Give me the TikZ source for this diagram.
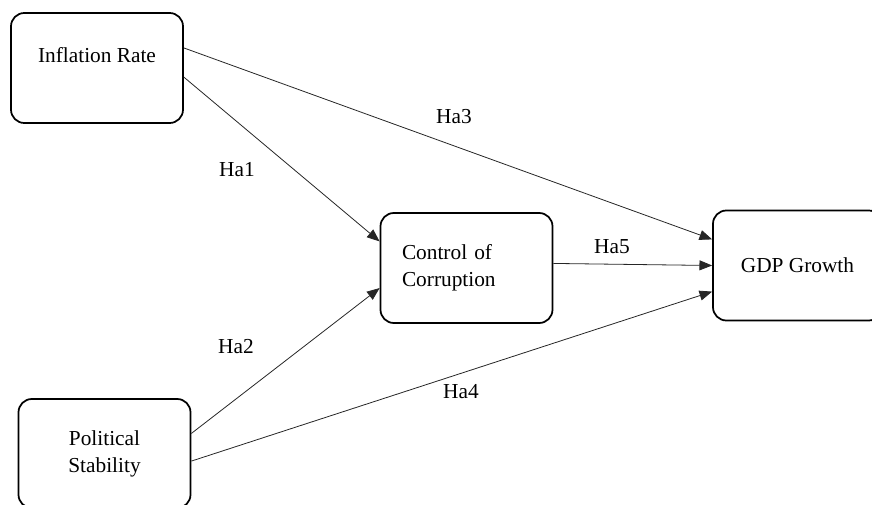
\documentclass[tikz,border=0pt]{standalone}
\usepackage{fontspec}
\setmainfont{Liberation Serif}
\usetikzlibrary{arrows.meta}

\tikzset{
	varbox/.style={draw, rounded corners=10pt, line width=1.3pt, minimum width=129pt, minimum height=82.5pt, align=center, inner sep=0pt},
	hyp/.style={-{Triangle[length=9.5pt,width=7.5pt]}, line width=0.6pt, black!85},
}

\begin{document}
\begin{tikzpicture}[x=0.75pt,y=-0.75pt,font=\fontsize{16}{20.25}\selectfont]
	% page
	\useasboundingbox (0,0) rectangle (872,505);
	\clip (0,0) rectangle (872,505);

	% variables
	\node[varbox] (inflation) at (97,68) {Inflation Rate\\ \mbox{}};
	\node[varbox, align=left, text width=96.75pt] (corruption) at (466.5,268) {Control of\\Corruption};
	\node[varbox, minimum width=126.75pt] (gdp) at (797.5,265.5) {GDP Growth};
	\node[varbox, minimum height=81.75pt] (political) at (104.5,453.5) {Political\\Stability};

	% hypotheses
	\draw[hyp] (inflation.-6.5) -- (corruption.163.9);
	\draw[hyp] (political.13.3) -- (corruption.-167.6);
	\draw[hyp] (inflation.13.1) -- (gdp.163.2);
	\draw[hyp] (political.-5) -- (gdp.-163.8);
	\draw[hyp] (corruption.3.3) -- (gdp.180);

	\node (ha1) at (237,170) {Ha1};
	\node (ha2) at (236,347) {Ha2};
	\node (ha3) at (454,117) {Ha3};
	\node (ha4) at (461,392) {Ha4};
	\node (ha5) at (612,247) {Ha5};
	% \node at (0,0) {0};
\end{tikzpicture}
\end{document}
